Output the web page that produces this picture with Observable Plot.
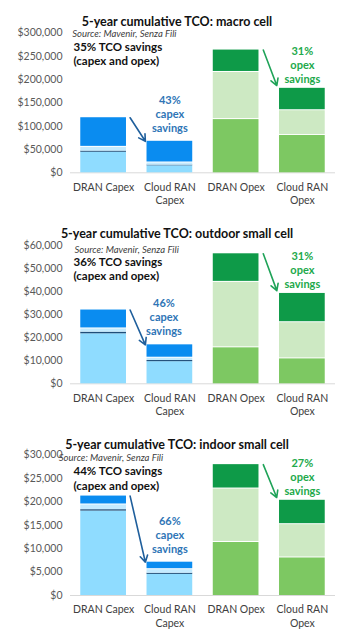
<!DOCTYPE html>
<html><head><meta charset="utf-8">
<script src="https://cdn.jsdelivr.net/npm/d3@7"></script>
<script src="https://cdn.jsdelivr.net/npm/@observablehq/plot@0.6"></script>
<style>
body{margin:0;background:#fff;}
#chart{width:353px;}
#chart svg{display:block;}
</style></head><body><div id="chart"></div>
<script>
// ---- data ----
const categories = ["DRAN Capex", "Cloud RAN\nCapex", "DRAN Opex", "Cloud RAN\nOpex"];
const panelTitles = ["5-year cumulative TCO: macro cell", "5-year cumulative TCO: outdoor small cell", "5-year cumulative TCO: indoor small cell"];
const sourceText = "Source: Mavenir, Senza Fili";
const tcoSavings = ["35%", "36%", "44%"];
const capexSavings = ["43%", "46%", "66%"];
const opexSavings = ["31%", "31%", "27%"];
const yMax = [300000, 60000, 30000];
const yStep = [50000, 10000, 5000];

// capex segments: [base, thin, small, top]; opex segments: [base, middle, top]
const macroDranCapex = [44000, 2500, 8000, 63500];
const macroCloudCapex = [15000, 1500, 4500, 46500];
const macroDranOpex = [114000, 101000, 48000];
const macroCloudOpex = [80000, 53000, 48000];

const outdoorDranCapex = [21700, 700, 1400, 8200];
const outdoorCloudCapex = [9600, 500, 1000, 5800];
const outdoorDranOpex = [15600, 28400, 12400];
const outdoorCloudOpex = [10800, 15700, 12700];

const indoorDranCapex = [18000, 300, 1000, 1900];
const indoorCloudCapex = [4500, 250, 750, 1600];
const indoorDranOpex = [11300, 11400, 5200];
const indoorCloudOpex = [8000, 7100, 5200];

const panelBars = [
  [macroDranCapex, macroCloudCapex, macroDranOpex, macroCloudOpex],
  [outdoorDranCapex, outdoorCloudCapex, outdoorDranOpex, outdoorCloudOpex],
  [indoorDranCapex, indoorCloudCapex, indoorDranOpex, indoorCloudOpex]
];

// ---- styles / layout ----
const capexColors = ["#8fdcff", "#1f4e79", "#c4ebff", "#0a8cf0"];
const opexColors = ["#7dc862", "#cde9c3", "#0e9a48"];
const layout = [
  {height: 210, top: 32.3, bottom: 37.7, titleDy: -15.6, srcDx: 1.7, srcDy: -2.3, tcoDy: 7.5, capexX: 1},
  {height: 210, top: 35, bottom: 36.7, titleDy: -16, srcDx: 4, srcDy: 1, tcoDy: 10, capexX: 0.91},
  {height: 215, top: 34.3, bottom: 40, titleDy: -14.3, srcDx: -11.7, srcDy: -1, tcoDy: 10, capexX: 1}
];
const W = 353, ML = 70, MR = 18, HW = 0.345;

const root = document.getElementById("chart");
panelBars.forEach((bars, p) => {
  const L = layout[p];
  const rows = [];
  bars.forEach((parts, i) => {
    let acc = 0;
    parts.forEach((v, j) => {
      rows.push({x: i, seg: j, kind: i < 2 ? "capex" : "opex", y1: acc, y2: acc + v});
      acc += v;
    });
  });
  const totals = bars.map(d => d3.sum(d));
  const rect = (filter, extra) => Plot.rectY(rows.filter(filter), {
    x1: d => d.x - HW, x2: d => d.x + HW, y1: "y1", y2: "y2",
    fill: d => d.kind === "capex" ? capexColors[d.seg] : opexColors[d.seg], ...extra
  });
  const chart = Plot.plot({
    width: W, height: L.height,
    marginLeft: ML, marginRight: MR, marginTop: L.top, marginBottom: L.bottom,
    style: {fontFamily: "Lato, sans-serif", background: "white", overflow: "visible"},
    x: {domain: [-0.5, 3.5]},
    y: {domain: [0, yMax[p]]},
    color: {type: "identity"},
    marks: [
      Plot.ruleY([0], {stroke: "#d9d9d9", strokeWidth: 1}),
      rect(d => d.kind === "capex" && d.seg < 3, {}),
      rect(d => d.kind === "capex" && d.seg === 3, {insetBottom: 1}),
      rect(d => d.kind === "opex" && d.seg === 0, {}),
      rect(d => d.kind === "opex" && d.seg > 0, {insetBottom: 1}),
      Plot.axisY({ticks: d3.range(0, yMax[p] + 1, yStep[p]), tickFormat: d => "$" + d3.format(",")(d),
        tickSize: 0, tickPadding: 8, fontSize: 10.5, fill: "#595959", label: null}),
      Plot.axisX({ticks: [0, 1, 2, 3], tickFormat: i => categories[i], tickSize: 0, tickPadding: 8,
        fontSize: 10.5, lineHeight: 1.3, fill: "#404040", label: null}),
      Plot.text([panelTitles[p]], {frameAnchor: "top", dx: (MR - ML) / 2, dy: L.titleDy,
        fontSize: 12.5, fontWeight: "bold", fill: "#111"}),
      Plot.text([sourceText], {frameAnchor: "top-left", textAnchor: "start", dx: L.srcDx, dy: L.srcDy,
        fontSize: 9.5, fontStyle: "italic", fill: "#404040"}),
      Plot.text([tcoSavings[p] + " TCO savings\n(capex and opex)"], {frameAnchor: "top-left", textAnchor: "start",
        lineAnchor: "top", dx: 3, dy: L.tcoDy, fontSize: 11.5, fontWeight: "bold", lineHeight: 1.27, fill: "#111"}),
      Plot.arrow([0], {x1: () => 0.4, y1: () => totals[0], x2: () => 0.63, y2: () => totals[1],
        stroke: "#1f5f9c", strokeWidth: 1.6, headLength: 7}),
      Plot.arrow([0], {x1: () => 2.41, y1: () => totals[2], x2: () => 2.63, y2: () => totals[3],
        insetEnd: 3, stroke: "#1fa358", strokeWidth: 1.6, headLength: 7}),
      Plot.text([capexSavings[p] + "\ncapex\nsavings"], {x: () => L.capexX, y: () => totals[1], lineAnchor: "bottom",
        dy: -9.5, fontSize: 11, fontWeight: "bold", lineHeight: 1.28, fill: "#2e75b6"}),
      Plot.text([opexSavings[p] + "\nopex\nsavings"], {x: () => 3, y: () => totals[3], lineAnchor: "bottom",
        dy: -5.5, fontSize: 11, fontWeight: "bold", lineHeight: 1.28, fill: "#22a94b"})
    ]
  });
  root.appendChild(chart);
});
</script></body></html>
